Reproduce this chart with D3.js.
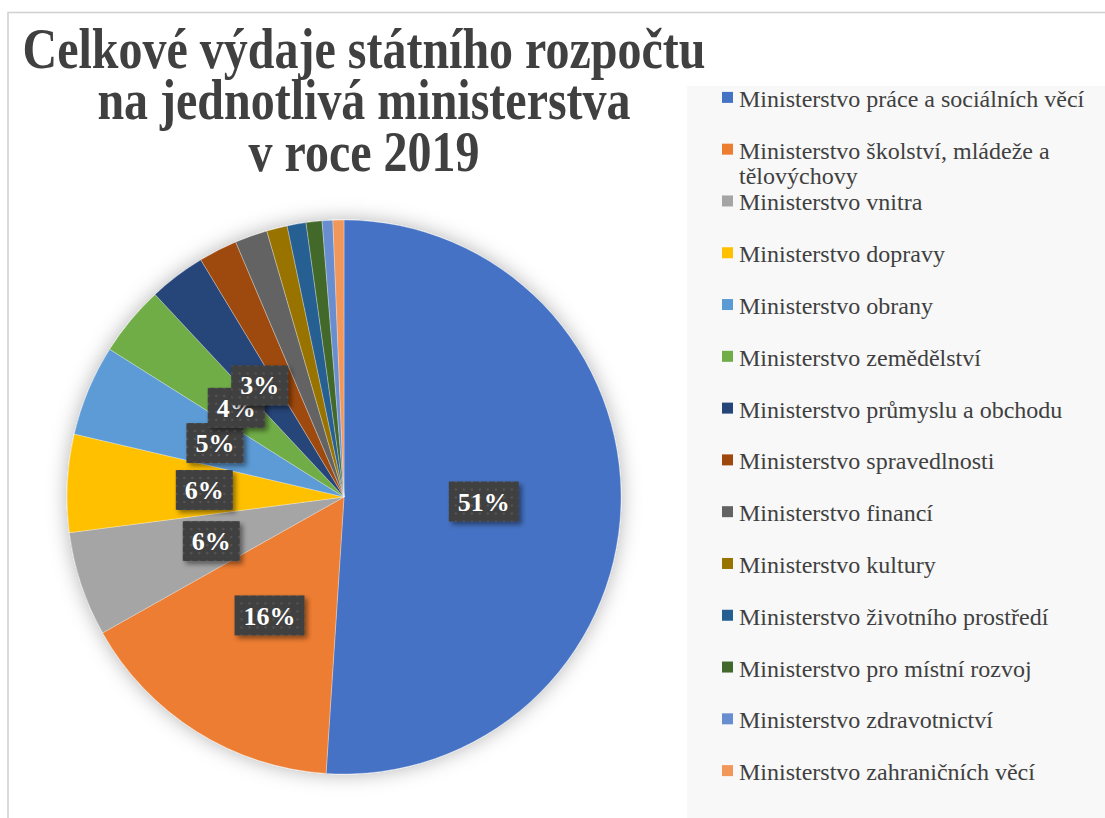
<!DOCTYPE html>
<meta charset="utf-8">
<style>
body { margin: 0; background: #fff; }
svg { display: block; }
.title { fill: #404040; font-family: "Liberation Serif", serif; font-weight: bold; font-size: 48px; }
.legend text { fill: #404040; font-family: "Liberation Serif", serif; font-size: 24px; }
.lbl text { fill: #fff; font-family: "Liberation Serif", serif; font-weight: bold; font-size: 26px; }
</style>
<svg width="1105" height="818"></svg>
<script src="https://cdn.jsdelivr.net/npm/d3@7"></script>
<script>

var ministries = [
  "Ministerstvo práce a sociálních věcí",
  "Ministerstvo školství, mládeže a tělovýchovy",
  "Ministerstvo vnitra",
  "Ministerstvo dopravy",
  "Ministerstvo obrany",
  "Ministerstvo zemědělství",
  "Ministerstvo průmyslu a obchodu",
  "Ministerstvo spravedlnosti",
  "Ministerstvo financí",
  "Ministerstvo kultury",
  "Ministerstvo životního prostředí",
  "Ministerstvo pro místní rozvoj",
  "Ministerstvo zdravotnictví",
  "Ministerstvo zahraničních věcí"
];

// share of total spending, %
var shares = [51.0, 15.8, 6.1, 5.7, 5.3, 4.1, 3.3, 2.25, 1.9, 1.2, 1.1, 0.93, 0.62, 0.64];

var colors = ["#4472C4", "#ED7D31", "#A5A5A5", "#FFC000", "#5B9BD5", "#70AD47",
              "#264478", "#9E480E", "#636363", "#997300", "#255E91", "#43682B",
              "#698ED0", "#F1975A"];

var titleLines = ["Celkové výdaje státního rozpočtu", "na jednotlivá ministerstva", "v roce 2019"];

var data = ministries.map(function(m, i) { return {name: m, value: shares[i]}; });
var total = d3.sum(shares);

var svg = d3.select("svg");
var defs = svg.append("defs");

var pieShadow = defs.append("filter").attr("id", "pieShadow")
    .attr("x", "-20%").attr("y", "-20%").attr("width", "140%").attr("height", "140%");
pieShadow.append("feDropShadow").attr("dx", 0).attr("dy", 0)
    .attr("stdDeviation", 10).attr("flood-color", "#000").attr("flood-opacity", 0.3);

var boxShadow = defs.append("filter").attr("id", "boxShadow")
    .attr("x", "-30%").attr("y", "-30%").attr("width", "160%").attr("height", "160%");
boxShadow.append("feDropShadow").attr("dx", 3).attr("dy", 3)
    .attr("stdDeviation", 2.5).attr("flood-color", "#000").attr("flood-opacity", 0.45);

var dots = defs.append("pattern").attr("id", "dots")
    .attr("width", 8).attr("height", 8).attr("patternUnits", "userSpaceOnUse");
dots.append("rect").attr("width", 8).attr("height", 8).attr("fill", "#3f3f3f");
dots.append("circle").attr("cx", 4).attr("cy", 4).attr("r", 1.3).attr("fill", "#555");

// chart frame
svg.append("path")
    .attr("d", "M8,818V12.5H1105")
    .attr("fill", "none").attr("stroke", "#d0d0d0").attr("stroke-width", 1.5);

// legend background
svg.append("rect")
    .attr("x", 687).attr("y", 86).attr("width", 418).attr("height", 732)
    .attr("fill", "#f8f8f8");

// title
var title = svg.append("text").attr("class", "title")
    .attr("text-anchor", "middle")
    .attr("transform", "translate(364,0) scale(1,1.18)");
title.selectAll("tspan")
    .data(titleLines)
  .enter().append("tspan")
    .attr("x", 0)
    .attr("y", function(d, i) { return (68 + i * 51.5) / 1.18; })
    .text(function(d) { return d; });

// pie
var cx = 344, cy = 497, radius = 277;
var pie = d3.pie().sort(null).value(function(d) { return d.value; });
var arc = d3.arc().innerRadius(0).outerRadius(radius);
var labelArc = d3.arc().innerRadius(radius * 0.505).outerRadius(radius * 0.505);

var g = svg.append("g").attr("transform", "translate(" + cx + "," + cy + ")");
var arcs = pie(data);

g.append("g").attr("filter", "url(#pieShadow)")
  .selectAll("path")
    .data(arcs)
  .enter().append("path")
    .attr("d", arc)
    .attr("fill", function(d, i) { return colors[i]; })
    .attr("stroke", "rgba(255,255,255,0.5)")
    .attr("stroke-width", 0.6);

// data labels (Excel hides the tiny ones)
var shown = arcs.filter(function(d) { return d.data.value / total >= 0.025; });
var lbl = g.selectAll(".lbl")
    .data(shown)
  .enter().append("g")
    .attr("class", "lbl")
    .attr("transform", function(d) { return "translate(" + labelArc.centroid(d) + ")"; });

lbl.append("rect").attr("filter", "url(#boxShadow)").attr("fill", "url(#dots)");
lbl.append("text")
    .attr("text-anchor", "middle")
    .attr("dy", "0.35em")
    .text(function(d) { return Math.round(d.data.value / total * 100) + "%"; });
lbl.each(function() {
  var t = d3.select(this).select("text"), w = t.node().getComputedTextLength() + 18;
  d3.select(this).select("rect")
      .attr("x", -w / 2).attr("y", -20).attr("width", w).attr("height", 40);
});

// legend
var rows = d3.scaleBand().domain(ministries).range([74, 799]);
var legend = svg.append("g").attr("class", "legend");
var item = legend.selectAll("g")
    .data(ministries)
  .enter().append("g")
    .attr("transform", function(d) { return "translate(722," + (rows(d) + rows.bandwidth() / 2) + ")"; });

item.append("rect")
    .attr("x", 0).attr("y", -8).attr("width", 11).attr("height", 11)
    .attr("fill", function(d, i) { return colors[i]; });

item.append("text")
    .attr("x", 17).attr("y", 7)
    .each(function(d) {
      var t = d3.select(this), words = d.split(" "), line = [], ln = 0;
      var ts = t.append("tspan").attr("x", 17).attr("y", 7);
      words.forEach(function(w) {
        line.push(w);
        ts.text(line.join(" "));
        if (ts.node().getComputedTextLength() > 360 && line.length > 1) {
          line.pop();
          ts.text(line.join(" "));
          line = [w];
          ln++;
          ts = t.append("tspan").attr("x", 17).attr("y", 7 + ln * 25).text(w);
        }
      });
    });

</script>
